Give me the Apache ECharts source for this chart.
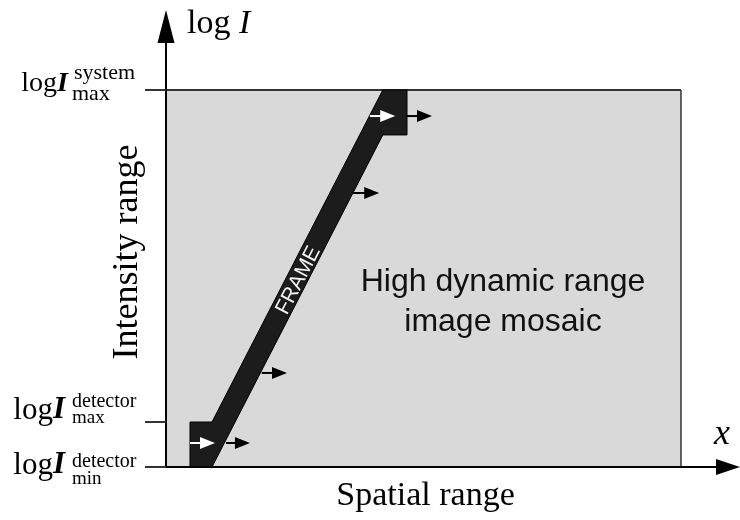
<!DOCTYPE html>
<html><head><meta charset="utf-8">
<script src="https://cdn.jsdelivr.net/npm/echarts@6/dist/echarts.min.js"></script>
<style>html,body{margin:0;padding:0;background:#fff}#c{width:740px;height:520px}</style>
</head><body><div id="c"></div>
<script>
// ---- data (y: log I in units of the detector's dynamic range, detector min = 0; x: spatial units, mosaic width = 100)
const tickValues = [0, 1, 8.38];
const tickSup = ['detector', 'detector', 'system'];
const tickSub = ['min', 'max', 'max'];
const mosaicX = [0, 100];
const mosaicY = [0, 8.38];
const frameX = [4.66, 4.66, 8.93, 42.1, 46.8, 46.8, 42.1, 8.93];
const frameY = [0, 1, 1, 8.38, 8.38, 7.38, 7.38, 0];
const arrowX0 = [4.66, 39.6, 11.65, 46.8, 36.3, 18.6];
const arrowX1 = [9.51, 44.5, 16.3, 51.65, 41.4, 23.5];
const arrowY = [0.533, 7.8, 0.533, 7.8, 6.09, 2.09];
const arrowKind = ['inside', 'inside', 'outside', 'outside', 'outside', 'outside'];
const axisMaxX = 109.13;
const axisMaxY = 9.79;

// ---- styling / layout
const SERIF = 'Liberation Serif';
const SANS = 'Liberation Sans';
const labelLayout = [
  {logDx: -101, logDy: 9, logSize: 31, supDx: -94, supDy: 2, supSize: 20, subDx: -94, subDy: 18, subSize: 19},
  {logDx: -101, logDy: -1, logSize: 31, supDx: -94, supDy: -13, supSize: 20, subDx: -94, subDy: 2, subSize: 19},
  {logDx: -98, logDy: 3, logSize: 28, supDx: -92, supDy: -9, supSize: 22, subDx: -94, subDy: 12, subSize: 22}
];
function mid(baseline, size) { return baseline - 0.34 * size; }

const chart = echarts.init(document.getElementById('c'), null, {renderer: 'canvas'});

const option = {
  animation: false,
  backgroundColor: '#ffffff',
  grid: {left: 166, top: 26.5, right: 12, bottom: 53, containLabel: false, outerBoundsMode: 'none'},
  xAxis: {
    type: 'value', min: 0, max: axisMaxX, z: 10,
    splitLine: {show: false}, axisLabel: {show: false}, axisTick: {show: false},
    axisLine: {show: true, onZero: false, symbol: ['none', 'triangle'], symbolSize: [16, 24],
      lineStyle: {color: '#000', width: 2}}
  },
  yAxis: {
    type: 'value', min: 0, max: axisMaxY, z: 10,
    splitLine: {show: false}, axisLabel: {show: false},
    axisTick: {show: true, customValues: tickValues, length: 21, inside: false,
      lineStyle: {color: '#333', width: 2}},
    axisLine: {show: true, onZero: false, symbol: ['none', 'triangle'], symbolSize: [17, 33],
      lineStyle: {color: '#000', width: 2}}
  },
  series: [
    { // mosaic area
      type: 'custom', z: 1, silent: true,
      data: [[mosaicX[0], mosaicY[0], mosaicX[1], mosaicY[1]]],
      renderItem: function (params, api) {
        const p0 = api.coord([api.value(0), api.value(1)]);
        const p1 = api.coord([api.value(2), api.value(3)]);
        return {type: 'group', children: [
          {type: 'rect', shape: {x: p0[0], y: p1[1], width: p1[0] - p0[0], height: p0[1] - p1[1]},
            style: {fill: '#d9d9d9'}},
          {type: 'line', shape: {x1: p0[0], y1: p1[1], x2: p1[0], y2: p1[1]},
            style: {stroke: '#333', lineWidth: 2}},
          {type: 'line', shape: {x1: p1[0], y1: p1[1], x2: p1[0], y2: p0[1]},
            style: {stroke: '#333', lineWidth: 1.5}}
        ]};
      }
    },
    { // frame band
      type: 'custom', z: 2, silent: true,
      data: [[0]],
      renderItem: function (params, api) {
        const pts = frameX.map((x, i) => api.coord([x, frameY[i]]));
        const C = pts[2], D = pts[3], G = pts[6];
        const cx = (C[0] + G[0]) / 2, cy = (C[1] + G[1]) / 2;
        const rot = Math.atan2(C[1] - D[1], D[0] - C[0]);
        return {type: 'group', children: [
          {type: 'polygon', shape: {points: pts}, style: {fill: '#1c1c1c', stroke: '#000', lineWidth: 1}},
          {type: 'text', x: cx + 1, y: cy + 2, rotation: rot,
            style: {text: 'FRAME', fill: '#f2f2f2', font: '21px "' + SANS + '"', align: 'center', verticalAlign: 'middle'}}
        ]};
      }
    },
    { // shift arrows
      type: 'custom', z: 3, silent: true,
      data: arrowX0.map((x, i) => [x, arrowX1[i], arrowY[i], i]),
      renderItem: function (params, api) {
        const i = api.value(3);
        const p0 = api.coord([api.value(0), api.value(2)]);
        const p1 = api.coord([api.value(1), api.value(2)]);
        const col = arrowKind[i] === 'inside' ? '#ffffff' : '#000000';
        const hl = 15, hw = 6;
        return {type: 'group', children: [
          {type: 'line', shape: {x1: p0[0], y1: p0[1], x2: p1[0] - hl + 1, y2: p1[1]},
            style: {stroke: col, lineWidth: 2}},
          {type: 'polygon', shape: {points: [[p1[0], p1[1]], [p1[0] - hl, p1[1] - hw], [p1[0] - hl, p1[1] + hw]]},
            style: {fill: col}}
        ]};
      }
    },
    { // tick labels  log I ^sup _sub
      type: 'custom', z: 4, silent: true,
      data: tickValues.map((v, i) => [0, v, i]),
      renderItem: function (params, api) {
        const i = api.value(2);
        const L = labelLayout[i];
        const p = api.coord([api.value(0), api.value(1)]);
        return {type: 'group', children: [
          {type: 'text', x: p[0] + L.logDx, y: mid(p[1] + L.logDy, L.logSize),
            style: {text: '{a|log}{b|I}', align: 'right', verticalAlign: 'middle',
              rich: {a: {fontFamily: SERIF, fontSize: L.logSize, fill: '#000'},
                     b: {fontFamily: SERIF, fontSize: L.logSize, fontStyle: 'italic', fontWeight: 'bold', fill: '#000'}}}},
          {type: 'text', x: p[0] + L.supDx, y: mid(p[1] + L.supDy, L.supSize),
            style: {text: tickSup[i], font: L.supSize + 'px "' + SERIF + '"', fill: '#000', align: 'left', verticalAlign: 'middle'}},
          {type: 'text', x: p[0] + L.subDx, y: mid(p[1] + L.subDy, L.subSize),
            style: {text: tickSub[i], font: L.subSize + 'px "' + SERIF + '"', fill: '#000', align: 'left', verticalAlign: 'middle'}}
        ]};
      }
    }
  ],
  graphic: [
    {type: 'text', x: 187, y: mid(36, 34), z: 20,
      style: {text: '{a|log }{b|I}', align: 'left', verticalAlign: 'middle',
        rich: {a: {fontFamily: SERIF, fontSize: 34, fill: '#000'}, b: {fontFamily: SERIF, fontSize: 34, fontStyle: 'italic', fill: '#000'}}}},
    {type: 'text', x: 722, y: mid(447, 36), z: 20,
      style: {text: 'x', font: 'italic 36px "' + SERIF + '"', fill: '#000', align: 'center', verticalAlign: 'middle'}},
    {type: 'text', x: 128, y: 252, rotation: Math.PI / 2, z: 20,
      style: {text: 'Intensity range', font: '36px "' + SERIF + '"', fill: '#000', align: 'center', verticalAlign: 'middle'}},
    {type: 'text', x: 425.5, y: mid(508, 34), z: 20,
      style: {text: 'Spatial range', font: '34px "' + SERIF + '"', fill: '#000', align: 'center', verticalAlign: 'middle'}},
    {type: 'text', x: 503, y: 302, z: 20,
      style: {text: 'High dynamic range\nimage mosaic', font: '32px "' + SANS + '"', lineHeight: 40, fill: '#111', align: 'center', verticalAlign: 'middle'}}
  ]
};
chart.setOption(option);
</script>
</body></html>
